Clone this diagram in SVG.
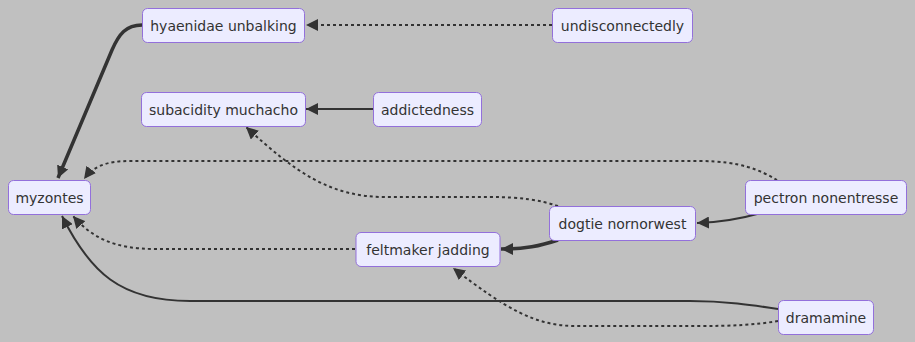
<svg xmlns="http://www.w3.org/2000/svg" width="915" height="342" viewBox="0 0 915 342">
  <style>
    .node rect { fill: #ECECFF; stroke: #9370DB; stroke-width: 1; }
    .node text { font-family: "DejaVu Sans", Verdana, sans-serif; font-size: 14px; fill: #333333; text-anchor: middle; dominant-baseline: central; }
    .edge { fill: none; stroke: #333333; }
    .normal { stroke-width: 2; }
    .thick { stroke-width: 3.5; }
    .dotted { stroke-width: 2; stroke-dasharray: 3 3; }
  </style>
  <defs>
    <marker id="arrow" viewBox="0 0 10 10" refX="10" refY="5" markerWidth="12" markerHeight="12" markerUnits="userSpaceOnUse" orient="auto">
      <path d="M0,0 L10,5 L0,10 z" fill="#333333"/>
    </marker>
  </defs>
  <rect width="915" height="342" fill="#C0C0C0"/>

  <g id="connectors">
    <!-- hyaenidae unbalking -> myzontes -->
    <path class="edge thick" d="M142,25 C126,25 119,34 112,50 L58,178" marker-end="url(#arrow)"/>
    <!-- undisconnectedly -> hyaenidae unbalking -->
    <path class="edge dotted" d="M552,25 L306,25" marker-end="url(#arrow)"/>
    <!-- addictedness -> subacidity muchacho -->
    <path class="edge normal" d="M373,109 L306,109" marker-end="url(#arrow)"/>
    <!-- dogtie nornorwest -> subacidity muchacho -->
    <path class="edge dotted" d="M558,206 C540,200 520,197 490,197 L385,197 C330,197 295,172 246,127" marker-end="url(#arrow)"/>
    <!-- pectron nonentresse -> myzontes -->
    <path class="edge dotted" d="M777,180 C760,170 740,161 700,161 L130,161 C105,161 93,167 84,179" marker-end="url(#arrow)"/>
    <!-- pectron nonentresse -> dogtie nornorwest -->
    <path class="edge normal" d="M757,214 C740,219 722,222 697,223" marker-end="url(#arrow)"/>
    <!-- dogtie nornorwest -> feltmaker jadding -->
    <path class="edge thick" d="M558,240 C540,246 525,249 501,249" marker-end="url(#arrow)"/>
    <!-- feltmaker jadding -> myzontes -->
    <path class="edge dotted" d="M355,249 L155,249 C115,249 92,238 73,216" marker-end="url(#arrow)"/>
    <!-- dramamine -> myzontes -->
    <path class="edge normal" d="M778,309 C752,305 725,301 690,301 L190,301 C120,301 90,272 62,216" marker-end="url(#arrow)"/>
    <!-- dramamine -> feltmaker jadding -->
    <path class="edge dotted" d="M778,321 C755,325 730,326 700,326 L575,326 C535,326 505,308 453,268" marker-end="url(#arrow)"/>
  </g>

  <g id="hyaenidae-unbalking" class="node">
    <rect x="142.5" y="8.5" width="162" height="34" rx="5"/>
    <text x="223.5" y="25.5">hyaenidae unbalking</text>
  </g>
  <g id="undisconnectedly" class="node">
    <rect x="552.5" y="8.5" width="140" height="34" rx="5"/>
    <text x="622.5" y="25.5">undisconnectedly</text>
  </g>
  <g id="subacidity-muchacho" class="node">
    <rect x="141.5" y="92.5" width="164" height="34" rx="5"/>
    <text x="223.5" y="109.5">subacidity muchacho</text>
  </g>
  <g id="addictedness" class="node">
    <rect x="373.5" y="92.5" width="108" height="34" rx="5"/>
    <text x="427.5" y="109.5">addictedness</text>
  </g>
  <g id="myzontes" class="node">
    <rect x="8.5" y="180.5" width="82" height="34" rx="5"/>
    <text x="49.5" y="197.5">myzontes</text>
  </g>
  <g id="feltmaker-jadding" class="node">
    <rect x="356" y="232.5" width="144" height="34" rx="5"/>
    <text x="428" y="249.5">feltmaker jadding</text>
  </g>
  <g id="dogtie-nornorwest" class="node">
    <rect x="549.5" y="206.5" width="146" height="34" rx="5"/>
    <text x="622.5" y="223.5">dogtie nornorwest</text>
  </g>
  <g id="pectron-nonentresse" class="node">
    <rect x="745.5" y="180.5" width="161" height="34" rx="5"/>
    <text x="826" y="197.5">pectron nonentresse</text>
  </g>
  <g id="dramamine" class="node">
    <rect x="778.5" y="300.5" width="95" height="34" rx="5"/>
    <text x="826" y="317.5">dramamine</text>
  </g>
</svg>
